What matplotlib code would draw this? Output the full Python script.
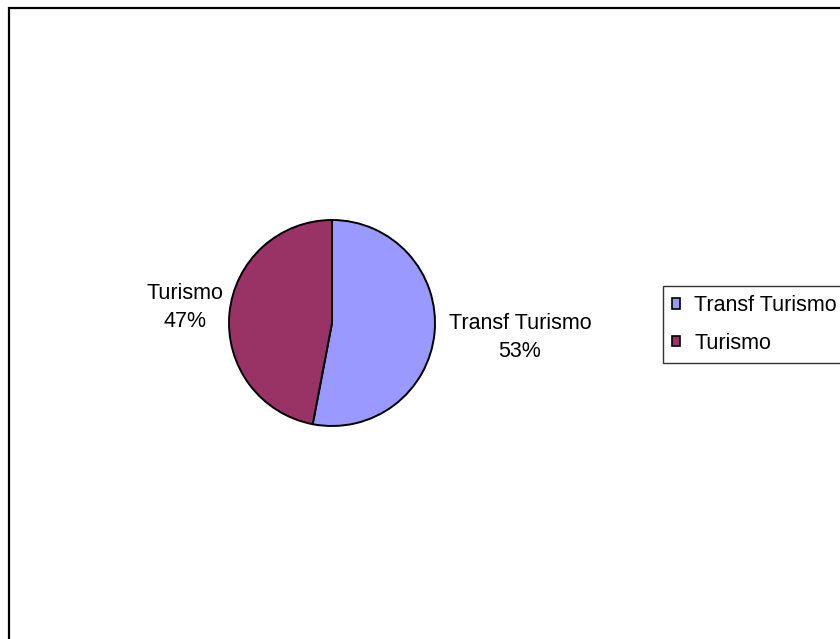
import matplotlib.pyplot as plt
from matplotlib.patches import Rectangle

# data
labels = ["Transf Turismo", "Turismo"]
values = [53, 47]
colors = ["#9999FF", "#993366"]

plt.rcParams['font.family'] = ['Liberation Sans', 'DejaVu Sans']

W, H = 840, 639
fig = plt.figure(figsize=(W / 100, H / 100), dpi=100)

# outer chart border (runs off the right and bottom edges)
fig.patches.append(Rectangle((8.5 / W, -0.1), 1.2, 1 - 7.5 / H + 0.1,
                             transform=fig.transFigure, fill=False,
                             edgecolor="#000000", linewidth=1.6))

# pie axes: centre (332, 323) px, radius 103 px
cx, cy, r = 332, 323, 103
ax = fig.add_axes([(cx - r) / W, (H - cy - r) / H, 2 * r / W, 2 * r / H])
wedges, _ = ax.pie(values, colors=colors, startangle=90, counterclock=False,
                   wedgeprops=dict(edgecolor="black", linewidth=1.4))
ax.set_xlim(-1, 1)
ax.set_ylim(-1, 1)
ax.set_aspect("auto")
ax.axis("off")

# slice labels
fs = 15.5
label_pos = [(1.825, -0.14), (-1.43, 0.15)]
for name, val, (x, y) in zip(labels, values, label_pos):
    ax.text(x, y, f"{name}\n{val}%", ha="center", va="center", fontsize=fs,
            linespacing=1.4, clip_on=False)

# legend
leg = fig.legend(wedges, labels, loc="upper left",
                 bbox_to_anchor=(663 / W, 1 - 286 / H),
                 fontsize=fs, frameon=True, fancybox=False, shadow=False,
                 borderpad=0.42, handlelength=0.38, handleheight=0.38,
                 handletextpad=0.65, labelspacing=0.77, borderaxespad=0)
leg.get_frame().set_edgecolor("black")
leg.get_frame().set_linewidth(1.0)
for h in leg.legend_handles:
    h.set_linewidth(1.2)

fig.savefig("out.png", dpi=100)
